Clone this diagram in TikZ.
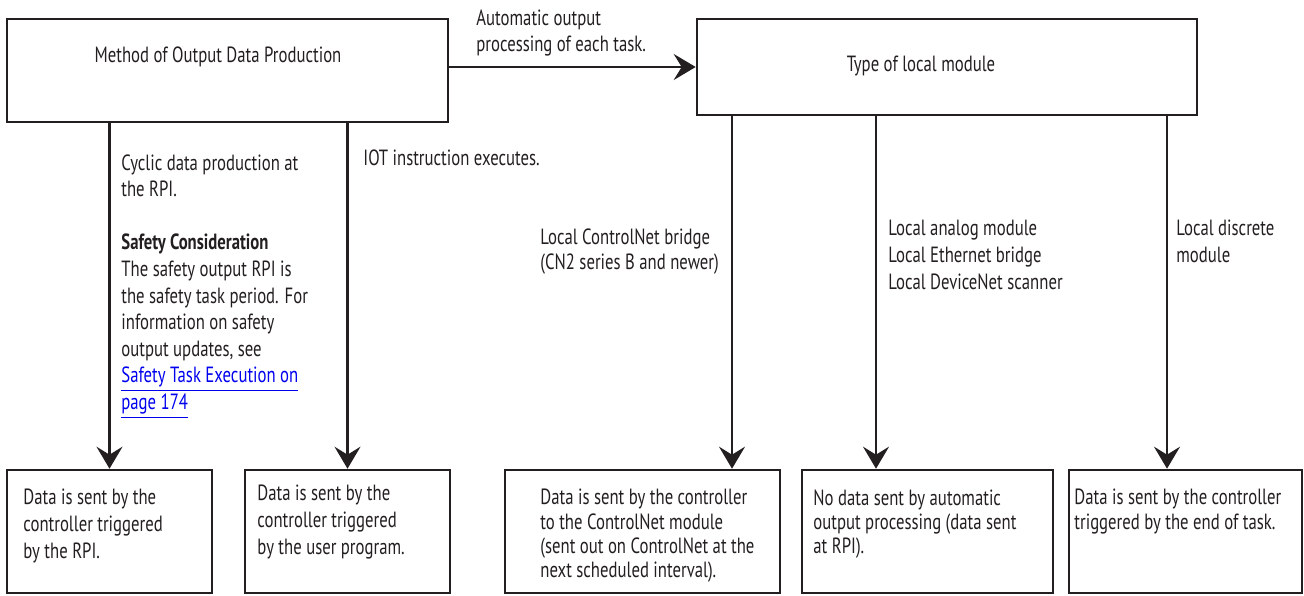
\documentclass[tikz,border=0pt]{standalone}
\usepackage{fontspec}
\setmainfont{PT Sans}[FakeStretch=0.76]
\usetikzlibrary{arrows.meta, fit}

\definecolor{inkline}{RGB}{35,31,32}
\definecolor{linkblue}{RGB}{0,0,238}

\tikzset{
  box/.style  = {draw=inkline, line width=1.3pt, inner sep=0pt},
  flow/.style = {draw=inkline, line width=1.2pt,
                 -{Stealth[length=11pt, width=13pt, inset=4pt]}},
  txt/.style  = {inner sep=0pt, anchor=north west, align=left, text=inkline,
                 font=\fontsize{11}{13.3}\selectfont},
  tighttxt/.style = {txt, font=\fontsize{11}{12.1}\selectfont},
}

\begin{document}
\begin{tikzpicture}[x=0.5pt, y=-0.5pt]
\useasboundingbox (0,0) rectangle (1304,595);

% ── top boxes ──────────────────────────────────────────────────────────────
\node[box, fit={(7,19) (448,122)}]   (method) {};
\node[box, fit={(697,19) (1197,115)}] (type) {};
\node[txt, anchor=center] (methodtxt) at (218,57) {Method of Output Data Production};
\node[txt, anchor=center] (typetxt)   at (921,66) {Type of local module};

% ── bottom boxes ───────────────────────────────────────────────────────────
\node[box, fit={(7,470) (212,593)}]    (rpi) {};
\node[box, fit={(245,470) (450,593)}]  (user) {};
\node[box, fit={(505,470) (780,593)}]  (cnet) {};
\node[box, fit={(802,470) (1053,593)}] (nodata) {};
\node[box, fit={(1069,470) (1302,593)}] (endtask) {};

\node[txt] (rpitxt) at (23,489)
  {Data is sent by the\\controller triggered\\by the RPI.};
\node[txt] (usertxt) at (257,485)
  {Data is sent by the\\controller triggered\\by the user program.};
\node[tighttxt] (cnettxt) at (540,489)
  {Data is sent by the controller\\to the ControlNet module\\(sent out on ControlNet at the\\next scheduled interval).};
\node[tighttxt] (nodatatxt) at (813,489)
  {No data sent by automatic\\output processing (data sent\\at RPI).};
\node[tighttxt] (endtasktxt) at (1074,489)
  {Data is sent by the controller\\triggered by the end of task.};

% ── connector columns ──────────────────────────────────────────────────────
\coordinate (cnetcol)  at (732,0);
\coordinate (analogcol) at (876,0);
\coordinate (discol)   at (1167,0);

\draw[flow] (method.east |- type.west) -- (type.west);
\draw[flow] (method.south -| rpi.north)  -- (rpi.north);
\draw[flow] (method.south -| user.north) -- (user.north);
\draw[flow] (type.south -| cnetcol)   -- (cnet.north -| cnetcol);
\draw[flow] (type.south -| analogcol) -- (nodata.north -| analogcol);
\draw[flow] (type.south -| discol)    -- (endtask.north -| discol);

% ── connector labels ───────────────────────────────────────────────────────
\node[txt] (autolbl) at (476,9) {Automatic output\\processing of each task.};
\node[txt] (cycliclbl) at (121,154)
  {Cyclic data production at\\the RPI.\\[13.3pt]
   \textbf{Safety Consideration}\\
   The safety output RPI is\\the safety task period. For\\information on safety\\output updates, see\\
   \textcolor{linkblue}{\underline{Safety Task Execution on}}\\
   \textcolor{linkblue}{\underline{page 174}}};
\node[txt] (iotlbl) at (363,149) {IOT instruction executes.};
\node[txt, font=\fontsize{11}{12.6}\selectfont] (cnetlbl) at (540,228)
  {Local ControlNet bridge\\(CN2 series B and newer)};
\node[txt] (analoglbl) at (888,220)
  {Local analog module\\Local Ethernet bridge\\Local DeviceNet scanner};
\node[txt] (discretelbl) at (1176,220) {Local discrete\\module};

\end{tikzpicture}
\end{document}
